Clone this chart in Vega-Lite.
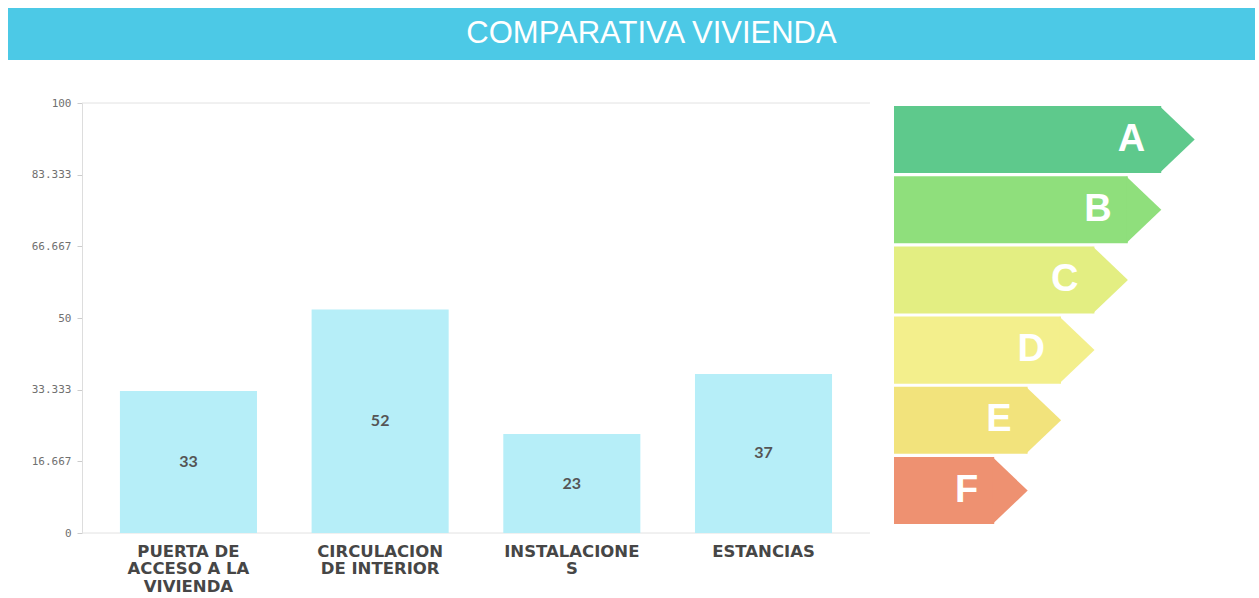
{
  "$schema": "https://vega.github.io/schema/vega-lite/v6.json",
  "padding": {"left": 8, "top": 8, "right": 0, "bottom": 0},
  "background": "white",
  "config": {"view": {"stroke": null}},
  "datasets": {
    "bars": [
      {"categoria": "PUERTA DE|ACCESO A LA|VIVIENDA", "valor": 33},
      {"categoria": "CIRCULACION|DE INTERIOR", "valor": 52},
      {"categoria": "INSTALACIONE|S", "valor": 23},
      {"categoria": "ESTANCIAS", "valor": 37}
    ],
    "clases": [
      {"clase": "A", "longitud": 8},
      {"clase": "B", "longitud": 7},
      {"clase": "C", "longitud": 6},
      {"clase": "D", "longitud": 5},
      {"clase": "E", "longitud": 4},
      {"clase": "F", "longitud": 3}
    ]
  },
  "spacing": 37,
  "vconcat": [
    {
      "width": 1247,
      "height": 52,
      "view": {"fill": "#4cc9e6", "stroke": null},
      "data": {"values": [{"titulo": "COMPARATIVA VIVIENDA"}]},
      "mark": {"type": "text", "color": "white", "font": "Liberation Sans", "fontSize": 31, "dx": 20, "baseline": "middle", "align": "center"},
      "encoding": {"text": {"field": "titulo"}}
    },
    {
      "spacing": 23,
      "hconcat": [
        {
          "width": 862,
          "height": 430,
          "data": {"name": "bars"},
          "layer": [
            {
              "data": {"values": [{"ref": 100}, {"ref": 0}]},
              "mark": {"type": "rule", "color": "#e2e2e2", "strokeWidth": 1},
              "encoding": {
                "x": {"datum": "PUERTA DE|ACCESO A LA|VIVIENDA", "type": "nominal", "bandPosition": -0.277},
                "x2": {"value": "width"},
                "y": {"field": "ref", "type": "quantitative", "scale": {"domain": [0, 100]}, "axis": null}
              }
            },
            {
              "mark": {"type": "bar", "color": "#b6eef8"},
              "encoding": {
                "x": {"field": "categoria", "type": "nominal", "sort": null,
                  "scale": {"paddingInner": 0.285, "paddingOuter": 0.391, "align": 0.7467},
                  "axis": {"title": null, "labelAngle": 0, "labelAlign": "center", "bandPosition": 0.5, "ticks": false, "domain": false, "labelExpr": "split(datum.label, '|')", "labelFont": "DejaVu Sans", "labelFontWeight": "bold", "labelFontSize": 16.5, "labelColor": "#464646", "labelLineHeight": 17.5, "labelPadding": 10, "labelLimit": 0, "labelBaseline": "top"}},
                "y": {"field": "valor", "type": "quantitative", "scale": {"domain": [0, 100], "nice": false},
                  "axis": {"title": null, "offset": -74, "values": [0, 16.667, 33.333, 50, 66.667, 83.333, 100], "format": ".5~g", "grid": false, "labelFont": "DejaVu Sans Mono", "labelFontSize": 11, "labelColor": "#707070", "tickSize": 5, "tickColor": "#cccccc", "domainColor": "#dddddd", "labelPadding": 6}}
              }
            },
            {
              "mark": {"type": "text", "font": "Lato", "fontWeight": "bold", "fontSize": 16, "color": "#555555", "baseline": "middle"},
              "encoding": {
                "x": {"field": "categoria", "type": "nominal", "sort": null},
                "y": {"field": "valor", "type": "quantitative", "scale": {"domain": [0, 200], "nice": false}, "axis": null},
                "text": {"field": "valor", "type": "quantitative"}
              }
            }
          ],
          "resolve": {"scale": {"y": "independent"}}
        },
        {
          "width": 334,
          "height": 430,
          "data": {"name": "clases"},
          "encoding": {
            "y": {"field": "clase", "type": "nominal", "sort": null, "axis": null, "scale": {"paddingInner": 0.045, "paddingOuter": 0.085, "align": 0.25}},
            "color": {"field": "clase", "type": "nominal", "legend": null,
              "scale": {"domain": ["A", "B", "C", "D", "E", "F"], "range": ["#5ec98c", "#8fdf7c", "#e3ee82", "#f3ef8c", "#f2e37c", "#ee9171"]}}
          },
          "layer": [
            {
              "mark": {"type": "bar"},
              "encoding": {"x": {"field": "longitud", "type": "quantitative", "scale": {"domain": [0, 10], "nice": false, "zero": true}, "axis": null}}
            },
            {
              "mark": {"type": "point", "shape": "M-0.05,-1L1,0L-0.05,1Z", "filled": true, "opacity": 1, "size": 4489},
              "encoding": {"x": {"field": "longitud", "type": "quantitative"}}
            },
            {
              "mark": {"type": "text", "align": "right", "dx": -16, "font": "Liberation Sans", "fontWeight": "bold", "fontSize": 38, "baseline": "middle"},
              "encoding": {
                "x": {"field": "longitud", "type": "quantitative"},
                "text": {"field": "clase"},
                "color": {"value": "white"}
              }
            }
          ]
        }
      ]
    }
  ]
}
